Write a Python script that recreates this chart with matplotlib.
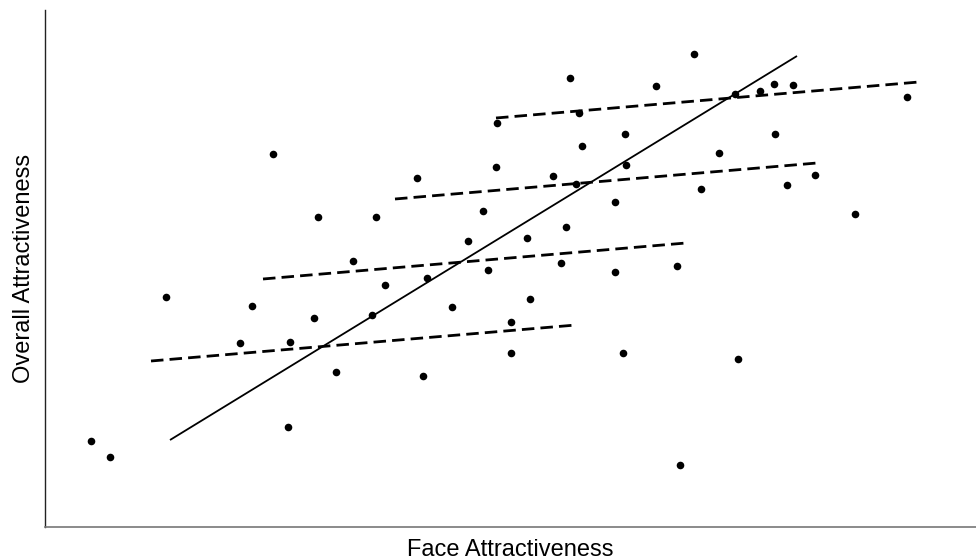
import numpy as np
import matplotlib.pyplot as plt

plt.rcParams['font.family'] = ['Liberation Sans', 'DejaVu Sans']

# ---------- Data (arbitrary units) ----------
face = [91, 110, 166, 240, 252, 273, 290, 288, 314, 318, 336, 353, 372, 376,
        385, 417, 423, 427, 452, 468, 483, 488, 496, 497, 511, 511, 527, 530,
        553, 561, 566, 570, 576, 579, 582, 615, 615, 623, 625, 626, 656, 677,
        680, 694, 701, 719, 735, 738, 760, 774, 775, 787, 793, 815, 855, 907]
overall = [86, 70, 230, 184, 221, 373, 185, 100, 209, 310, 155, 266, 212, 310,
           242, 349, 151, 249, 220, 286, 316, 257, 360, 404, 205, 174, 289, 228,
           351, 264, 300, 449, 343, 414, 381, 325, 255, 174, 393, 362, 441, 261,
           62, 473, 338, 374, 433, 168, 436, 443, 393, 342, 442, 352, 313, 430]

# overall fit line (x0, y0, x1, y1)
overall_fit = [170, 87, 797, 471]

# group fit lines (dashed), one per group
group_x0 = [151, 263, 395, 496]
group_y0 = [166, 248, 328, 409]
group_x1 = [576, 686, 817, 919]
group_y1 = [202, 284, 364, 445]

# ---------- Plot ----------
fig = plt.figure(figsize=(9.76, 5.6), dpi=100)
ax = fig.add_axes([45 / 976, 33 / 560, 1 - 45 / 976, 517 / 560])

ax.scatter(face, overall, s=30, c='black', linewidths=0, zorder=3)

ax.plot([overall_fit[0], overall_fit[2]], [overall_fit[1], overall_fit[3]],
        color='black', lw=1.3, solid_capstyle='butt')

for x0, y0, x1, y1 in zip(group_x0, group_y0, group_x1, group_y1):
    ax.plot([x0, x1], [y0, y1], color='black', lw=2.0, dashes=(4.5, 2.2))

ax.set_xlim(45, 976)
ax.set_ylim(0, 517)

ax.set_xticks([])
ax.set_yticks([])
for side in ('top', 'right'):
    ax.spines[side].set_visible(False)
ax.spines['left'].set_color('#222222')
ax.spines['bottom'].set_color('#777777')
ax.spines['left'].set_linewidth(1.0)
ax.spines['bottom'].set_linewidth(1.2)

ax.set_xlabel('Face Attractiveness', fontsize=17, labelpad=9)
ax.set_ylabel('Overall Attractiveness', fontsize=17, labelpad=7)

fig.savefig('out.png', dpi=100)
